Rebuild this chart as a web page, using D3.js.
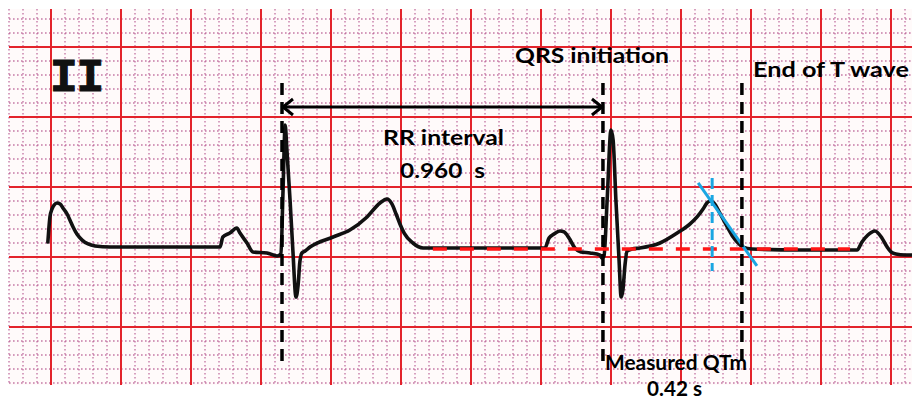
<!DOCTYPE html>
<html><head><meta charset="utf-8">
<script src="https://cdn.jsdelivr.net/npm/d3@7"></script>
<style>
html,body{margin:0;padding:0;background:#fff;}
svg{display:block;}
</style></head>
<body>
<svg id="c" width="912" height="400"></svg>
<script>
// ECG trace (lead II): time in seconds, amplitude in mV
const traceTime = [0.111,0.114,0.117,0.123,0.129,0.137,0.146,0.154,0.166,0.174,0.183,0.194,0.209,0.226,0.246,0.289,
  0.603,0.611,0.631,0.651,0.660,0.680,0.697,0.737,0.766,
  0.777,0.783,0.789,0.794,0.803,0.811,0.820,0.826,0.831,0.837,0.846,
  0.860,0.926,0.974,1.023,1.060,1.080,1.094,1.106,1.117,1.129,1.154,1.183,1.403,
  1.531,1.543,1.557,1.574,1.586,1.600,1.617,1.634,1.660,1.689,
  1.694,1.700,1.709,1.720,1.726,1.734,1.743,1.749,1.754,1.760,1.766,1.780,
  1.803,1.860,1.909,1.946,1.966,1.983,1.994,2.003,2.014,2.031,2.051,2.069,2.083,2.097,2.123,2.260,2.423,
  2.437,2.454,2.474,2.494,2.509,2.520,2.534,2.560,2.580];
const traceMv = [0.107,0.207,0.286,0.343,0.371,0.386,0.379,0.350,0.307,0.264,0.214,0.164,0.121,0.093,0.079,0.071,
  0.071,0.143,0.171,0.207,0.171,0.100,0.036,0.029,0.007,
  0.021,0.479,0.943,0.764,0.407,0.050,-0.286,-0.200,-0.036,0.029,0.043,
  0.071,0.143,0.193,0.286,0.386,0.414,0.379,0.307,0.236,0.171,0.100,0.064,0.064,
  0.064,0.136,0.164,0.186,0.179,0.136,0.064,0.036,0.029,0.014,
  -0.007,0.007,0.407,0.907,0.836,0.407,-0.021,-0.286,-0.236,-0.057,0.043,0.057,
  0.064,0.100,0.171,0.236,0.286,0.343,0.386,0.400,0.386,0.314,0.221,0.143,0.100,0.071,0.057,0.050,0.050,
  0.107,0.157,0.186,0.136,0.071,0.036,0.021,0.014,0.014];

// annotation values
const qrsOnsets = [0.780, 1.697];     // s
const tWaveEnd = 2.094;               // s
const markerTop = 1.243, markerBottom = -0.757; // mV extent of vertical markers
const rrArrowLevel = 1.071;           // mV
const isoBaseline = {t0: 1.211, t1: 2.403, mv: 0.057};
const tangentLine = [[1.969, 0.529], [2.137, -0.064]];
const tPeakMarker = {t: 2.009, mv0: 0.564, mv1: -0.100};
const leadLabel = "II";
const labels = ["QRS initiation", "End of T wave", "RR interval", "0.960  s", "Measured QTm", "0.42 s"];

const svg = d3.select("#c");
const x = d3.scaleLinear().domain([0, 2.58]).range([9, 912]);
const y = d3.scaleLinear().domain([-0.914, 1.771]).range([385, 9]);

// paper background
svg.append("rect").attr("x", 9).attr("y", 9).attr("width", 903).attr("height", 376).attr("fill", "#fffafa");

// grid
const g = svg.append("g");
const minorT = d3.range(0, 65).map(k => k * 0.04);
const minorV = d3.range(-9, 18).map(k => k * 0.1);
const minorStyle = sel => sel.attr("stroke", "#b4508c").attr("stroke-width", 1.4)
  .attr("stroke-dasharray", "1.6,2.4").attr("opacity", 0.75);
g.selectAll(".mvx").data(minorT.filter((t, k) => k % 5 !== 3)).join("line")
  .attr("x1", d => x(d)).attr("x2", d => x(d)).attr("y1", 9).attr("y2", 385).call(minorStyle);
g.selectAll(".mvy").data(minorV.filter(v => Math.abs(Math.round(v * 10) % 5) !== 0)).join("line")
  .attr("y1", d => y(d)).attr("y2", d => y(d)).attr("x1", 9).attr("x2", 912).call(minorStyle);
g.selectAll(".Mx").data(minorT.filter((t, k) => k % 5 === 3)).join("line")
  .attr("x1", d => x(d)).attr("x2", d => x(d)).attr("y1", 9).attr("y2", 385)
  .attr("stroke", "#e3232b").attr("stroke-width", 2);
g.selectAll(".My").data(minorV.filter(v => Math.round(v * 10) % 5 === 0)).join("line")
  .attr("y1", d => y(d)).attr("y2", d => y(d)).attr("x1", 9).attr("x2", 912)
  .attr("stroke", "#e3232b").attr("stroke-width", 2);

// ECG trace
const pts = traceTime.map((t, i) => [t, traceMv[i]]);
svg.append("path").datum(pts)
  .attr("d", d3.line().x(d => x(d[0])).y(d => y(d[1])).curve(d3.curveMonotoneX))
  .attr("fill", "none").attr("stroke", "#111").attr("stroke-width", 3.6)
  .attr("stroke-linejoin", "round").attr("stroke-linecap", "round");

// isoelectric baseline (red dashed)
svg.append("line").attr("x1", x(isoBaseline.t0)).attr("x2", x(isoBaseline.t1))
  .attr("y1", y(isoBaseline.mv)).attr("y2", y(isoBaseline.mv))
  .attr("stroke", "#ff1515").attr("stroke-width", 3.5).attr("stroke-dasharray", "14,13");

// tangent (blue)
svg.append("line").attr("x1", x(tangentLine[0][0])).attr("y1", y(tangentLine[0][1]))
  .attr("x2", x(tangentLine[1][0])).attr("y2", y(tangentLine[1][1]))
  .attr("stroke", "#1aa6e2").attr("stroke-width", 3);
svg.append("line").attr("x1", x(tPeakMarker.t)).attr("x2", x(tPeakMarker.t))
  .attr("y1", y(tPeakMarker.mv0)).attr("y2", y(tPeakMarker.mv1))
  .attr("stroke", "#1aa6e2").attr("stroke-width", 3).attr("stroke-dasharray", "11,6");

// black dashed markers
svg.selectAll(".mk").data([...qrsOnsets, tWaveEnd]).join("line")
  .attr("x1", d => x(d)).attr("x2", d => x(d))
  .attr("y1", y(markerTop)).attr("y2", y(markerBottom))
  .attr("stroke", "#000").attr("stroke-width", 3.5).attr("stroke-dasharray", "12,7");

// RR double arrow
const ay = y(rrArrowLevel), ax0 = x(qrsOnsets[0]), ax1 = x(qrsOnsets[1]);
svg.append("line").attr("x1", ax0 + 1).attr("x2", ax1 - 1).attr("y1", ay).attr("y2", ay)
  .attr("stroke", "#000").attr("stroke-width", 3);
svg.append("path").attr("d", `M${ax0 + 11},${ay - 8} L${ax0 + 1},${ay} L${ax0 + 11},${ay + 8}`)
  .attr("fill", "none").attr("stroke", "#000").attr("stroke-width", 3).attr("stroke-linejoin", "miter");
svg.append("path").attr("d", `M${ax1 - 11},${ay - 8} L${ax1 - 1},${ay} L${ax1 - 11},${ay + 8}`)
  .attr("fill", "none").attr("stroke", "#000").attr("stroke-width", 3).attr("stroke-linejoin", "miter");

// lead label
svg.append("text").attr("x", 50).attr("y", 91).text(leadLabel)
  .attr("font-family", "Liberation Mono, DejaVu Sans Mono, monospace").attr("font-weight", "bold")
  .attr("font-size", 46).attr("fill", "#111").attr("stroke", "#111").attr("stroke-width", 1.2)
  .attr("letter-spacing", -1);

// annotation labels
const lab = [
  {s: labels[0], x: 515, y: 63, w: 154},
  {s: labels[1], x: 753, y: 77, w: 156},
  {s: labels[2], x: 383, y: 145, w: 121},
  {s: labels[3], x: 400, y: 178, w: 85},
  {s: labels[4], x: 605, y: 370, w: 142},
  {s: labels[5], x: 647, y: 396, w: 55}
];
svg.selectAll(".lab").data(lab).join("text")
  .attr("x", d => d.x).attr("y", d => d.y)
  .attr("textLength", d => d.w).attr("lengthAdjust", "spacingAndGlyphs")
  .style("white-space", "pre")
  .attr("font-family", "Lato, Open Sans, sans-serif").attr("font-weight", "bold")
  .attr("font-size", 20).attr("fill", "#000")
  .text(d => d.s);
</script>
</body></html>
